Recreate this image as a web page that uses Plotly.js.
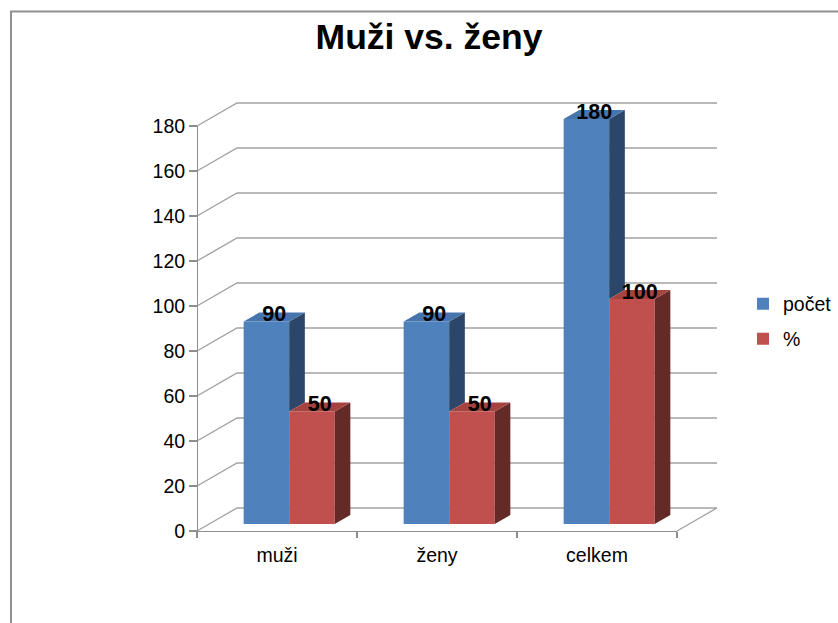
<!DOCTYPE html>
<html>
<head>
<meta charset="utf-8">
<script src="https://cdn.plot.ly/plotly-3.0.1.min.js"></script>
<style>html,body{margin:0;padding:0;background:#fff;}#chart{width:838px;height:623px;}</style>
</head>
<body>
<div id="chart"></div>
<script>
// ---- data ----
const categories = ['muži', 'ženy', 'celkem'];
const pocet = [90, 90, 180];
const procenta = [50, 50, 100];
const seriesNames = ['počet', '%'];
const yTicks = [0, 20, 40, 60, 80, 100, 120, 140, 160, 180];

// ---- styling / geometry ----
const FONT = 'Liberation Sans, Arial, sans-serif';
const W = 838, H = 623;
const L = 190, R = 725, T = 95, B = 540;          // plot area in pixels
const PX = 160, PY = 2.25;                          // pixels per unit
const frontLeft = 197, frontBottom = 531;           // front plane origin
const depthX = 40 / PX, depthY = 23 / PY;           // full depth offset in data units
const barFront = 0.304, barBack = 0.696;            // bar depth fractions
const barW = 0.2844;
const shiftX = depthX * barFront, baseY = depthY * barFront;
const sideDx = depthX * (barBack - barFront), sideDy = depthY * (barBack - barFront);

const frontCol = ['#4f81bd', '#c0504d'];
const sideCol = ['#2c4669', '#642a28'];
const topCol = ['#4675ae', '#a5433f'];
const gridCol = '#a2a2a2';
const axisCol = '#8e8e8e';

const xRange = [-0.5 - (frontLeft - L) / PX, -0.5 + (R - frontLeft) / PX];
const yRange = [-(B - frontBottom) / PY, (frontBottom - T) / PY];
const nCat = categories.length;
const yMax = yTicks[yTicks.length - 1];

const series = [pocet, procenta];
const traces = [];

// front faces (bars)
series.forEach((vals, s) => {
  traces.push({
    type: 'bar', name: seriesNames[s], legend: s === 0 ? 'legend' : 'legend2',
    x: categories.map((c, i) => i), y: vals, base: baseY,
    offset: shiftX - barW + s * barW, width: barW,
    marker: {color: frontCol[s], line: {width: 0}},
    hoverinfo: 'skip', xaxis: 'x', yaxis: 'y'
  });
});

// side and top faces
series.forEach((vals, s) => {
  const sx = [], sy = [], tx = [], ty = [];
  vals.forEach((v, i) => {
    const left = i + shiftX - barW + s * barW, right = left + barW;
    const top = baseY + v;
    let bottom = baseY;
    if (s < series.length - 1) bottom = baseY + Math.min(v, series[s + 1][i]);
    if (top > bottom) {
      sx.push(right, right, right + sideDx, right + sideDx, right, null);
      sy.push(bottom, top, top + sideDy, bottom + sideDy, bottom, null);
    }
    tx.push(left, right, right + sideDx, left + sideDx, left, null);
    ty.push(top, top, top + sideDy, top + sideDy, top, null);
  });
  traces.push({type: 'scatter', mode: 'lines', x: sx, y: sy, fill: 'toself', fillcolor: sideCol[s],
    line: {width: 0, color: sideCol[s]}, showlegend: false, hoverinfo: 'skip'});
  traces.push({type: 'scatter', mode: 'lines', x: tx, y: ty, fill: 'toself', fillcolor: topCol[s],
    line: {width: 0, color: topCol[s]}, showlegend: false, hoverinfo: 'skip'});
});

// value labels
series.forEach((vals, s) => {
  traces.push({
    type: 'scatter', mode: 'text',
    x: vals.map((v, i) => i + shiftX - barW + s * barW + barW / 2 + sideDx / 2),
    y: vals.map(v => baseY + v + sideDy / 2 + 0.6),
    text: vals.map(v => String(v)),
    textposition: 'middle center',
    textfont: {family: FONT, size: 21.5, color: '#000', weight: 'bold'},
    cliponaxis: false, showlegend: false, hoverinfo: 'skip'
  });
});

// invisible trace carrying the display axes (front plane)
traces.push({type: 'scatter', mode: 'markers', x: categories, y: pocet, xaxis: 'x2', yaxis: 'y2',
  marker: {opacity: 0}, showlegend: false, hoverinfo: 'skip'});

// walls: gridlines on back wall + diagonals on left wall + floor right edge
let path = '';
yTicks.forEach(v => {
  path += `M${-0.5},${v} L${-0.5 + depthX},${v + depthY} L${nCat - 0.5 + depthX},${v + depthY} `;
});
path += `M${nCat - 0.5},0 L${nCat - 0.5 + depthX},${depthY}`;

const pw = R - L, ph = B - T;
const fx = px => (px - L) / pw;
const fy = py => (B - py) / ph;

const layout = {
  width: W, height: H,
  margin: {l: L, r: W - R, t: T, b: H - B, pad: 0},
  paper_bgcolor: '#fff', plot_bgcolor: 'rgba(0,0,0,0)',
  font: {family: FONT, color: '#000'},
  barmode: 'overlay',
  title: {
    text: 'Muži vs. ženy', xref: 'container', yref: 'container',
    x: 429 / W, y: 1 - 37 / H, xanchor: 'center', yanchor: 'middle',
    font: {family: FONT, size: 35.5, color: '#000', weight: 'bold'}
  },
  xaxis: {range: xRange, visible: false, fixedrange: true},
  yaxis: {range: yRange, visible: false, fixedrange: true},
  xaxis2: {
    type: 'category', categoryorder: 'array', categoryarray: categories,
    anchor: 'free', position: fy(frontBottom),
    domain: [fx(frontLeft), fx(frontLeft + nCat * PX)], range: [-0.5, nCat - 0.5],
    tickson: 'boundaries', ticks: 'outside', ticklen: 6, tickcolor: axisCol, tickwidth: 1.3,
    ticklabelstandoff: 6,
    showline: true, linecolor: axisCol, linewidth: 1.3, showgrid: false, zeroline: false,
    tickfont: {family: FONT, size: 19.5, color: '#000'}, fixedrange: true
  },
  yaxis2: {
    anchor: 'free', position: fx(frontLeft),
    domain: [fy(frontBottom), fy(frontBottom - yMax * PY)], range: [0, yMax],
    tickmode: 'array', tickvals: yTicks, ticks: 'outside', ticklen: 8, tickcolor: axisCol, tickwidth: 1.3,
    showline: true, linecolor: axisCol, linewidth: 1.3, showgrid: false, zeroline: false,
    tickfont: {family: FONT, size: 19.5, color: '#000'}, fixedrange: true
  },
  shapes: [
    {type: 'path', xref: 'x', yref: 'y', path: path, layer: 'below',
     line: {color: gridCol, width: 1.4}},
    {type: 'rect', xref: 'paper', yref: 'paper', layer: 'below',
     x0: fx(11), x1: fx(W + 20), y0: fy(11.5), y1: fy(H + 20),
     line: {color: '#8f8f8f', width: 2}, fillcolor: 'rgba(0,0,0,0)'}
  ],
  legend: {xref: 'container', yref: 'container', x: 743 / W, y: 1 - 304 / H,
    xanchor: 'left', yanchor: 'middle', font: {family: FONT, size: 19.5, color: '#000'},
    bgcolor: 'rgba(0,0,0,0)', borderwidth: 0},
  legend2: {xref: 'container', yref: 'container', x: 743 / W, y: 1 - 339 / H,
    xanchor: 'left', yanchor: 'middle', font: {family: FONT, size: 19.5, color: '#000'},
    bgcolor: 'rgba(0,0,0,0)', borderwidth: 0}
};

Plotly.newPlot('chart', traces, layout, {displayModeBar: false, staticPlot: true});
</script>
</body>
</html>
